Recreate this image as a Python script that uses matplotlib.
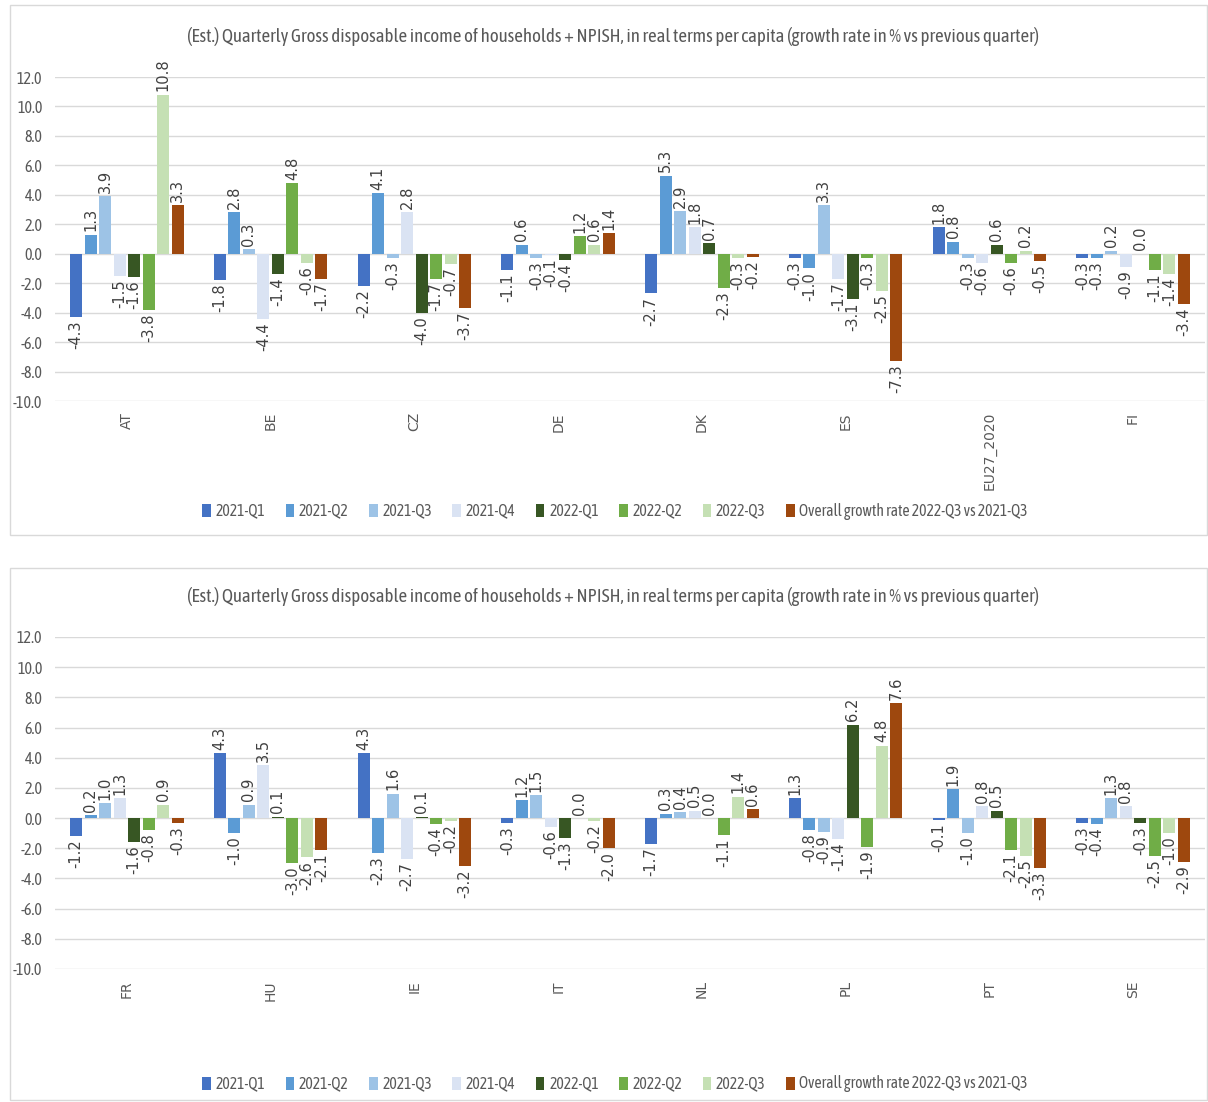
import matplotlib
matplotlib.use("Agg")
import matplotlib.pyplot as plt
from matplotlib import font_manager
from matplotlib.font_manager import FontProperties
from matplotlib.patches import Rectangle, Patch
import numpy as np

series = ["2021-Q1", "2021-Q2", "2021-Q3", "2021-Q4", "2022-Q1", "2022-Q2", "2022-Q3",
          "Overall growth rate 2022-Q3 vs 2021-Q3"]
colors = ["#4472C4", "#5B9BD5", "#9DC3E6", "#DAE3F3", "#375623", "#70AD47", "#C5E0B4", "#9E480E"]

top_countries = ["AT", "BE", "CZ", "DE", "DK", "ES", "EU27_2020", "FI"]
top_values = [
    [-4.3, 1.3, 3.9, -1.5, -1.6, -3.8, 10.8, 3.3],
    [-1.8, 2.8, 0.3, -4.4, -1.4, 4.8, -0.6, -1.7],
    [-2.2, 4.1, -0.3, 2.8, -4.0, -1.7, -0.7, -3.7],
    [-1.1, 0.6, -0.3, -0.1, -0.4, 1.2, 0.6, 1.4],
    [-2.7, 5.3, 2.9, 1.8, 0.7, -2.3, -0.3, -0.2],
    [-0.3, -1.0, 3.3, -1.7, -3.1, -0.3, -2.5, -7.3],
    [1.8, 0.8, -0.3, -0.6, 0.6, -0.6, 0.2, -0.5],
    [-0.3, -0.3, 0.2, -0.9, 0.0, -1.1, -1.4, -3.4],
]

bottom_countries = ["FR", "HU", "IE", "IT", "NL", "PL", "PT", "SE"]
bottom_values = [
    [-1.2, 0.2, 1.0, 1.3, -1.6, -0.8, 0.9, -0.3],
    [4.3, -1.0, 0.9, 3.5, 0.1, -3.0, -2.6, -2.1],
    [4.3, -2.3, 1.6, -2.7, 0.1, -0.4, -0.2, -3.2],
    [-0.3, 1.2, 1.5, -0.6, -1.3, 0.0, -0.2, -2.0],
    [-1.7, 0.3, 0.4, 0.5, 0.0, -1.1, 1.4, 0.6],
    [1.3, -0.8, -0.9, -1.4, 6.2, -1.9, 4.8, 7.6],
    [-0.1, 1.9, -1.0, 0.8, 0.5, -2.1, -2.5, -3.3],
    [-0.3, -0.4, 1.3, 0.8, -0.3, -2.5, -1.0, -2.9],
]

yticks = [12.0, 10.0, 8.0, 6.0, 4.0, 2.0, 0.0, -2.0, -4.0, -6.0, -8.0, -10.0]
title = "(Est.) Quarterly Gross disposable income of households + NPISH, in real terms per capita (growth rate in % vs previous quarter)"


def pick_narrow():
    best = None
    for f in font_manager.fontManager.ttflist:
        if f.style != "normal":
            continue
        w = f.weight
        if not (w in (400, "normal", "regular", "book") or str(w) == "400"):
            continue
        st = str(f.stretch).lower()
        n = f.name
        score = None
        if n == "Liberation Sans Narrow":
            score = 0
        elif "condensed" in n.lower() and "serif" not in n.lower() and "mono" not in n.lower():
            score = 1
        elif "condensed" in st and n in ("DejaVu Sans", "Noto Sans", "Open Sans", "Roboto"):
            score = 2
        if score is not None and (best is None or score < best[0]):
            best = (score, f.fname)
    if best is None:
        return {"family": "Liberation Sans"}
    return {"fname": best[1]}


NARROW = pick_narrow()


def nfp(size):
    return FontProperties(size=size, **NARROW)


W, H = 1208, 1102
fig = plt.figure(figsize=(W / 100, H / 100), dpi=100)
fig.patch.set_facecolor("white")


def fx(px):
    return px / W


def fy(py):
    return 1 - py / H


for (y0, y1) in [(5, 535), (568, 1100)]:
    fig.add_artist(Rectangle((fx(10), fy(y1)), fx(1207) - fx(10), fy(y0) - fy(y1),
                             transform=fig.transFigure, fill=False,
                             edgecolor="#d9d9d9", linewidth=1))

label_color = "#404040"
axis_color = "#595959"


def draw_panel(countries, values, ax_top, ax_bot, title_y, legend_y):
    ax = fig.add_axes([fx(55), fy(ax_bot), fx(1205) - fx(55), fy(ax_top) - fy(ax_bot)])
    vals = np.array(values)
    n_cat, n_ser = vals.shape
    x = np.arange(n_cat)
    step = 0.101
    width = 0.083
    for j in range(n_ser):
        xs = x + (j - (n_ser - 1) / 2) * step
        ax.bar(xs, vals[:, j], width=width, color=colors[j], zorder=3)
        for xi, v in zip(xs, vals[:, j]):
            if v >= 0:
                ax.annotate(f"{v:.1f}", (xi, v), xytext=(0, 2.5), textcoords="offset points",
                            rotation=90, ha="center", va="bottom", fontsize=10.5,
                            family="DejaVu Sans", color=label_color, annotation_clip=False)
            else:
                ax.annotate(f"{v:.1f}", (xi, v), xytext=(0, -2.5), textcoords="offset points",
                            rotation=90, ha="center", va="top", fontsize=10.5,
                            family="DejaVu Sans", color=label_color, annotation_clip=False)
    ax.set_xlim(-0.5, n_cat - 0.5)
    ax.set_ylim(-10, 12)
    ax.set_yticks(yticks)
    ax.set_yticklabels([f"{t:.1f}" for t in yticks], color=axis_color)
    for t in ax.get_yticklabels():
        t.set_fontproperties(nfp(11.5))
    ax.set_xticks(x)
    ax.set_xticklabels(countries, rotation=90, fontsize=10, family="DejaVu Sans",
                       color=axis_color, va="top")
    ax.tick_params(axis="both", length=0)
    ax.tick_params(axis="x", pad=8)
    ax.tick_params(axis="y", pad=9)
    ax.grid(axis="y", color="#d9d9d9", linewidth=1, zorder=0)
    ax.set_axisbelow(True)
    for s in ax.spines.values():
        s.set_visible(False)

    t = fig.text(fx(613), fy(title_y), title, ha="center", va="center",
                 fontproperties=nfp(14), color=axis_color)
    fig.canvas.draw()
    w = t.get_window_extent().width
    t.set_fontsize(14 * 856.0 / w)

    handles = [Patch(facecolor=c, edgecolor="none") for c in colors]
    size = 12.0
    for _ in range(3):
        leg = fig.legend(handles, series, loc="center", bbox_to_anchor=(fx(615), fy(legend_y)),
                         ncol=8, frameon=False, handlelength=0.55, handleheight=0.9,
                         handletextpad=0.3, columnspacing=1.3,
                         prop=nfp(size), labelcolor=axis_color)
        fig.canvas.draw()
        lw = leg.get_window_extent().width
        if abs(lw - 836) < 6:
            break
        leg.remove()
        size = size * 836.0 / lw
    return ax


draw_panel(top_countries, top_values, 77, 401, 37, 511)
draw_panel(bottom_countries, bottom_values, 637, 969, 597, 1084)

fig.savefig("out.png", dpi=100, facecolor="white")
